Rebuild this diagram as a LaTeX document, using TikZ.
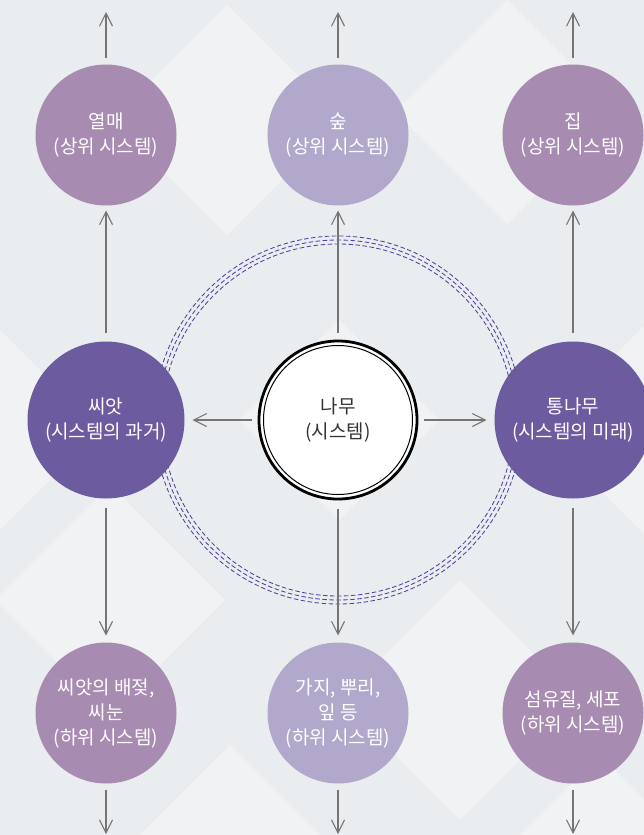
\documentclass[tikz,border=0pt]{standalone}
\usepackage{fontspec}
\setmainfont{Noto Sans CJK KR}
\usetikzlibrary{arrows.meta}
\definecolor{bgc}{HTML}{EAEDEF}
\definecolor{mauve}{HTML}{A78BB1}
\definecolor{lavender}{HTML}{B1A8CB}
\definecolor{royal}{HTML}{6C5B9F}
\definecolor{ringc}{HTML}{4A43A0}
\definecolor{arrc}{HTML}{757575}
\definecolor{hubtext}{HTML}{333333}
\tikzset{
  bubble/.style={circle, inner sep=0pt, outer sep=0pt, text=white, align=center,
    font=\fontsize{19}{25}\selectfont},
  small/.style={bubble, minimum size=141pt},
  big/.style={bubble, minimum size=157pt},
  arr/.style={draw=arrc, line width=1.1pt, -{Straight Barb[length=13pt,width=13pt,line width=1.1pt]}},
  ringline/.style={draw=ringc, line width=0.85pt, dash pattern=on 4.5pt off 2.5pt},
  lightdia/.style={fill=white, opacity=0.3},
}
\begin{document}
\begin{tikzpicture}[x=1pt,y=-1pt]
\useasboundingbox (0,0) rectangle (644,835);
\fill[bgc] (0,0) rectangle (644,835);
\begin{scope}
\clip (0,0) rectangle (644,835);
\foreach \cx/\cy/\h in {227/120/115, 507/112/112, -10/430/110, 110/600/115, 460/700/120, 650/430/110, 339/420/100, 230/835/90, 600/835/80}{
  \fill[lightdia] (\cx,\cy-\h) -- (\cx+\h,\cy) -- (\cx,\cy+\h) -- (\cx-\h,\cy) -- cycle;
}
\end{scope}

% dashed rings
\foreach \r in {184,180,176}{
  \draw[ringline] (338,420) circle[radius=\r];
}

% nodes
\node[small, fill=mauve] (yeolmae) at (106,135) {열매\\(상위 시스템)};
\node[small, fill=lavender] (sup) at (338,135) {숲\\(상위 시스템)};
\node[small, fill=mauve] (jip) at (573,135) {집\\(상위 시스템)};

\node[big, fill=royal] (ssiat) at (106,420) {씨앗\\(시스템의 과거)};
\node[big, fill=royal] (tongnamu) at (573,420) {통나무\\(시스템의 미래)};

\node[circle, minimum size=158pt, inner sep=0pt, fill=white, draw=black, line width=2.8pt,
      align=center, text=hubtext, font=\fontsize{19}{25}\selectfont] (namu) at (338,420) {나무\\(시스템)};
\draw[black, line width=1pt] (namu.center) circle[radius=74.5pt];

\node[small, fill=mauve] (baejeot) at (106,713) {씨앗의 배젖,\\씨눈\\(하위 시스템)};
\node[small, fill=lavender] (gaji) at (338,713) {가지, 뿌리,\\잎 등\\(하위 시스템)};
\node[small, fill=mauve] (seomyu) at (573,713) {섬유질, 세포\\(하위 시스템)};

% free ends
\coordinate (t1) at (106,12);
\coordinate (t2) at (338,12);
\coordinate (t3) at (573,12);
\coordinate (b1) at (106,834);
\coordinate (b2) at (338,834);
\coordinate (b3) at (573,834);

% arrows
\draw[arr, shorten <=7pt] (yeolmae.north) -- (t1);
\draw[arr, shorten <=7pt] (sup.north) -- (t2);
\draw[arr, shorten <=7pt] (jip.north) -- (t3);

\draw[arr, shorten <=9pt, shorten >=5pt] (ssiat.north) -- (yeolmae.south);
\draw[arr, shorten <=7pt, shorten >=5pt] (namu.north) -- (sup.south);
\draw[arr, shorten <=9pt, shorten >=5pt] (tongnamu.north) -- (jip.south);

\draw[arr, shorten <=6pt, shorten >=8pt] (namu.west) -- (ssiat.east);
\draw[arr, shorten <=6pt, shorten >=8pt] (namu.east) -- (tongnamu.west);

\draw[arr, shorten <=9pt, shorten >=7pt] (ssiat.south) -- (baejeot.north);
\draw[arr, shorten <=9pt, shorten >=7pt] (namu.south) -- (gaji.north);
\draw[arr, shorten <=9pt, shorten >=7pt] (tongnamu.south) -- (seomyu.north);

\draw[arr, shorten <=6pt] (baejeot.south) -- (b1);
\draw[arr, shorten <=6pt] (gaji.south) -- (b2);
\draw[arr, shorten <=6pt] (seomyu.south) -- (b3);
\end{tikzpicture}
\end{document}
